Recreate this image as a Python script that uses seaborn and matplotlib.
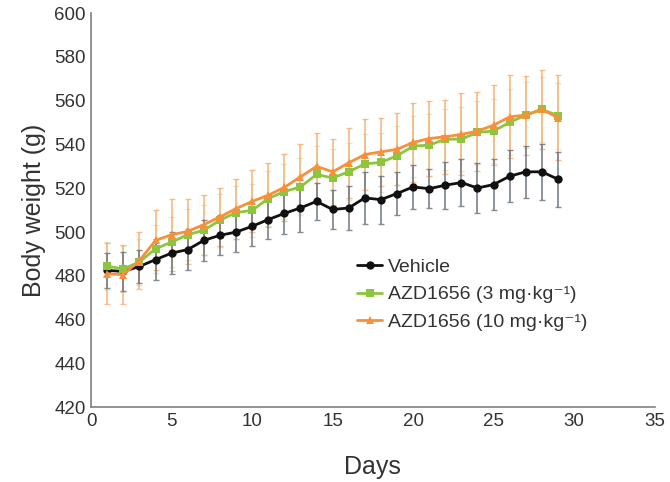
import numpy as np
import pandas as pd
import seaborn as sns
import matplotlib.pyplot as plt

# body weight readings (g)
days = list(range(1, 30))
vehicle = [482.5, 482.0, 484.3, 487.4, 490.4, 492.0, 496.2, 498.5, 500.0, 502.6,
           505.7, 508.5, 511.0, 514.0, 510.3, 511.0, 515.6, 514.8, 517.6, 520.6,
           519.8, 521.4, 522.6, 520.1, 521.7, 525.5, 527.5, 527.5, 524.1]
azd_3 = [484.4, 483.2, 486.3, 492.4, 495.4, 498.8, 500.8, 505.4, 508.9, 509.9,
         515.3, 518.5, 520.6, 526.3, 524.7, 527.5, 531.1, 531.8, 534.8, 539.2,
         539.7, 542.4, 542.4, 545.5, 546.1, 550.1, 553.4, 556.0, 553.1]
azd_10 = [481.0, 480.5, 487.0, 496.2, 498.8, 500.3, 503.4, 506.9, 510.7, 514.0,
          516.8, 520.4, 525.2, 530.0, 527.5, 531.6, 535.4, 536.6, 537.8, 540.9,
          542.7, 543.5, 544.6, 546.1, 548.8, 552.6, 553.4, 556.0, 552.2]
# error bar half-lengths (g)
vehicle_err = [8.0, 8.7, 7.5, 9.5, 9.4, 9.5, 9.2, 9.2, 9.2, 9.0,
               9.0, 9.6, 11.0, 8.6, 8.8, 10.2, 11.8, 11.0, 9.7, 10.0,
               9.0, 10.7, 10.8, 11.4, 11.8, 11.8, 11.8, 12.7, 12.6]
azd_3_err = [11.0, 10.5, 10.5, 11.0, 11.5, 11.5, 11.5, 12.0, 12.0, 12.0,
             12.5, 12.5, 13.0, 13.0, 13.0, 13.0, 13.5, 13.5, 13.5, 14.0,
             14.0, 14.0, 14.5, 14.5, 14.5, 15.0, 15.0, 15.0, 15.0]
azd_10_err = [14.0, 13.4, 13.0, 13.7, 16.5, 15.0, 13.7, 13.2, 13.7, 14.2,
              14.5, 15.3, 15.2, 15.0, 15.2, 16.0, 16.2, 15.6, 16.4, 17.9,
              17.3, 17.0, 18.7, 18.0, 18.3, 19.0, 18.0, 18.0, 19.5]

labels = ['Vehicle', 'AZD1656 (3 mg\u00b7kg\u207b\u00b9)', 'AZD1656 (10 mg\u00b7kg\u207b\u00b9)']
colors = ['#111111', '#8cc63f', '#f7903a']
bar_colors = ['#6f7782', '#b9dc8a', '#f9b27a']
bar_alpha = [0.85, 0.5, 0.85]
markers = ['o', 's', '^']

df = pd.concat([
    pd.DataFrame({'Days': days, 'Body weight (g)': vals, 'err': errs, 'group': lab})
    for vals, errs, lab in zip([vehicle, azd_3, azd_10],
                               [vehicle_err, azd_3_err, azd_10_err], labels)
], ignore_index=True)

sns.set_style('white')
plt.rcParams['font.family'] = ['Liberation Sans', 'DejaVu Sans']
text_color = '#333333'

fig, ax = plt.subplots(figsize=(6.7, 4.82), dpi=100)
fig.subplots_adjust(left=0.136, right=0.977, top=0.973, bottom=0.155)

# error bars first so the lines sit on top (green, then orange, then vehicle)
for i in [1, 2, 0]:
    sub = df[df['group'] == labels[i]]
    ax.errorbar(sub['Days'], sub['Body weight (g)'], yerr=sub['err'], fmt='none',
                ecolor=bar_colors[i], elinewidth=1.3, capsize=2, capthick=1,
                alpha=bar_alpha[i], zorder=1)

sns.lineplot(data=df, x='Days', y='Body weight (g)', hue='group', style='group',
             hue_order=labels, style_order=labels, palette=colors,
             markers=dict(zip(labels, markers)), dashes=False,
             linewidth=2, markersize=6, markeredgewidth=0, ax=ax, zorder=3)

ax.set_xlim(0, 35)
ax.set_ylim(420, 600)
ax.set_xticks(range(0, 36, 5))
ax.set_yticks(range(420, 601, 20))
ax.tick_params(axis='both', labelsize=13.5, colors='#808080', labelcolor=text_color,
               length=4, width=1, direction='inout', pad=2)
for side in ['top', 'right']:
    ax.spines[side].set_visible(False)
for side in ['left', 'bottom']:
    ax.spines[side].set_color('#808080')
    ax.spines[side].set_linewidth(1.2)
ax.set_xlabel('Days', fontsize=18, color=text_color, labelpad=18)
ax.set_ylabel('Body weight (g)', fontsize=18, color=text_color, labelpad=6)

handles, _ = ax.get_legend_handles_labels()
ax.legend(handles, labels, loc='upper left', bbox_to_anchor=(0.458, 0.397),
          frameon=False, fontsize=14, handlelength=1.3, handletextpad=0.3,
          labelspacing=0.5, borderaxespad=0, labelcolor=text_color)

plt.savefig('out.png', dpi=100)
